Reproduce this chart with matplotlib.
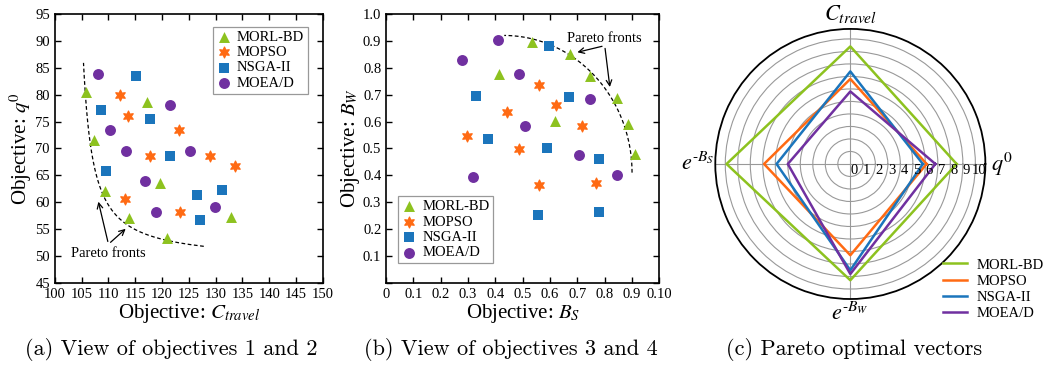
import numpy as np
import matplotlib
matplotlib.use("Agg")
import matplotlib.pyplot as plt

plt.rcParams['font.family'] = ['Liberation Serif', 'DejaVu Serif']
plt.rcParams['mathtext.fontset'] = 'stix'

methods = ["MORL-BD", "MOPSO", "NSGA-II", "MOEA/D"]
colors = ["#8DC21F", "#FF6A13", "#1B75BC", "#7030A0"]
markers = ["^", (6, 1, 0), "s", "o"]

# (a) C_travel vs q0
ctravel = {
    "MORL-BD": [105.9, 107.3, 109.4, 113.9, 120.9, 117.1, 119.7, 132.8],
    "MOPSO":   [112.1, 113.7, 117.7, 113.1, 123.4, 123.2, 128.9, 133.6],
    "NSGA-II": [115.2, 108.6, 117.7, 109.6, 121.4, 126.5, 131.2, 127.1],
    "MOEA/D":  [108.0, 110.3, 113.2, 121.5, 125.2, 116.8, 118.8, 129.9],
}
q0 = {
    "MORL-BD": [80.5, 71.6, 62.1, 57.0, 53.4, 78.7, 63.6, 57.2],
    "MOPSO":   [79.9, 76.0, 68.6, 60.6, 58.2, 73.4, 68.6, 66.7],
    "NSGA-II": [83.5, 77.1, 75.5, 65.8, 68.6, 61.4, 62.3, 56.7],
    "MOEA/D":  [83.8, 73.4, 69.6, 78.1, 69.6, 63.9, 58.2, 59.1],
}

# (b) B_S vs B_W
bs = {
    "MORL-BD": [0.534, 0.672, 0.746, 0.413, 0.846, 0.885, 0.909, 0.617],
    "MOPSO":   [0.559, 0.443, 0.623, 0.296, 0.485, 0.715, 0.559, 0.767],
    "NSGA-II": [0.595, 0.329, 0.670, 0.373, 0.587, 0.780, 0.554, 0.780],
    "MOEA/D":  [0.408, 0.279, 0.485, 0.746, 0.510, 0.705, 0.317, 0.844],
}
bw = {
    "MORL-BD": [0.895, 0.851, 0.771, 0.775, 0.687, 0.589, 0.478, 0.601],
    "MOPSO":   [0.734, 0.637, 0.660, 0.545, 0.496, 0.582, 0.365, 0.373],
    "NSGA-II": [0.880, 0.693, 0.691, 0.535, 0.501, 0.459, 0.251, 0.264],
    "MOEA/D":  [0.903, 0.829, 0.777, 0.683, 0.585, 0.476, 0.394, 0.400],
}

# (c) pareto optimal vectors: q0, C_travel, e^-Bs, e^-Bw
radar_axes = [r"$q^0$", r"$C_{travel}$", r"$e^{\text{-}B_S}$", r"$e^{\text{-}B_W}$"]
radar_vals = {
    "MORL-BD": [8.5, 9.4, 9.9, 9.3],
    "MOPSO":   [6.1, 6.8, 6.9, 7.3],
    "NSGA-II": [5.8, 7.4, 5.9, 8.5],
    "MOEA/D":  [6.8, 5.8, 5.0, 8.8],
}
radar_ticks = list(range(0, 11))

captions = ["(a) View of objectives 1 and 2", "(b) View of objectives 3 and 4",
            "(c) Pareto optimal vectors"]

fig = plt.figure(figsize=(10.55, 3.66), dpi=100)
ax1 = fig.add_axes([0.052, 0.227, 0.254, 0.735])
ax2 = fig.add_axes([0.366, 0.227, 0.259, 0.735])
ax3 = fig.add_axes([0.678, 0.183, 0.256, 0.738], projection='polar')


def style_scatter(ax):
    ax.tick_params(direction='in', top=True, right=True, labelsize=10.5,
                   length=4, width=1)
    for sp in ax.spines.values():
        sp.set_linewidth(1.2)


for m, c, mk in zip(methods, colors, markers):
    lw = 0.9 if m == "MOPSO" else 0
    ax1.scatter(ctravel[m], q0[m], s=62, color=c, marker=mk, label=m,
                linewidths=lw, edgecolors=c, zorder=3)
    ax2.scatter(bs[m], bw[m], s=62, color=c, marker=mk, label=m,
                linewidths=lw, edgecolors=c, zorder=3)

# (a)
ax1.set_xlim(100, 150)
ax1.set_ylim(45, 95)
ax1.set_xticks(np.arange(100, 151, 5))
ax1.set_yticks(np.arange(45, 96, 5))
style_scatter(ax1)
ax1.set_xlabel(r"Objective: $C_{travel}$", fontsize=15, labelpad=1)
ax1.set_ylabel(r"Objective: $q^0$", fontsize=15, labelpad=1)
yy = np.linspace(51.8, 85.9, 200)
ax1.plot(103.5 + 68 / (yy - 49), yy, 'k--', lw=0.9, dashes=(3, 2))
for tgt in [(108.0, 60.6), (113.6, 55.4)]:
    ax1.annotate("", xy=tgt, xytext=(110.0, 52.2),
                 arrowprops=dict(arrowstyle='->', lw=0.9, color='k'))
ax1.text(110.0, 50.5, "Pareto fronts", fontsize=10.5, ha='center', va='center')
leg1 = ax1.legend(loc='upper right', bbox_to_anchor=(0.944, 0.952), fontsize=10.5,
                  fancybox=False, edgecolor='gray', handletextpad=0.4,
                  labelspacing=0.15, borderpad=0.25, handlelength=1.0,
                  borderaxespad=0)
leg1.get_frame().set_linewidth(0.9)

# (b)
ax2.set_xlim(0, 1.0)
ax2.set_ylim(0, 1.0)
ax2.set_xticks(np.arange(0, 1.01, 0.1))
ax2.set_xticklabels(["0", "0.1", "0.2", "0.3", "0.4", "0.5", "0.6", "0.7",
                     "0.8", "0.9", "0.10"])
ax2.set_yticks(np.arange(0, 1.01, 0.1))
ax2.set_yticklabels(["", "0.1", "0.2", "0.3", "0.4", "0.5", "0.6", "0.7",
                     "0.8", "0.9", "1.0"])
style_scatter(ax2)
ax2.set_xlabel(r"Objective: $B_S$", fontsize=15, labelpad=1)
ax2.set_ylabel(r"Objective: $B_W$", fontsize=15, labelpad=1)
th = np.linspace(0.0, np.pi / 2 - 0.005, 200)
ax2.plot(0.43 + 0.47 * np.cos(th), 0.41 + 0.51 * np.sin(th), 'k--', lw=0.9,
         dashes=(3, 2))
for tgt in [(0.69, 0.855), (0.82, 0.718)]:
    ax2.annotate("", xy=tgt, xytext=(0.80, 0.882),
                 arrowprops=dict(arrowstyle='->', lw=0.9, color='k'))
ax2.text(0.80, 0.907, "Pareto fronts", fontsize=10.5, ha='center', va='center')
leg2 = ax2.legend(loc='lower left', bbox_to_anchor=(0.044, 0.074), fontsize=10.5,
                  fancybox=False, edgecolor='gray', handletextpad=0.4,
                  labelspacing=0.15, borderpad=0.25, handlelength=1.0,
                  borderaxespad=0)
leg2.get_frame().set_linewidth(0.9)

# (c)
angles = [0, np.pi / 2, np.pi, 3 * np.pi / 2]
for m, c in zip(methods, colors):
    v = radar_vals[m]
    ax3.plot(angles + [angles[0]], v + [v[0]], color=c, lw=1.8, label=m)
ax3.set_ylim(0, 10.8)
ax3.set_yticks(radar_ticks[1:])
ax3.set_yticklabels([])
ax3.set_xticks(angles)
ax3.set_xticklabels([])
ax3.grid(color='#999999', lw=0.8)
ax3.spines['polar'].set_linewidth(1.3)
for k in radar_ticks:
    ax3.annotate(str(k), xy=(0, k + 0.3), xytext=(0, -5), textcoords='offset points',
                 ha='center', va='center', fontsize=10.5)
ax3.text(0, 12.1, radar_axes[0], fontsize=16, ha='center', va='center')
ax3.text(np.pi / 2, 12.0, radar_axes[1], fontsize=16, ha='center', va='center')
ax3.text(np.pi, 12.2, radar_axes[2], fontsize=16, ha='center', va='center')
ax3.text(3 * np.pi / 2, 12.0, radar_axes[3], fontsize=16, ha='center', va='center')
fig.legend(*ax3.get_legend_handles_labels(), loc='lower right',
           bbox_to_anchor=(1.002, 0.09), fontsize=10.5, frameon=False,
           handlelength=1.6, labelspacing=0.2, handletextpad=0.7)

for x, cap in zip([0.162, 0.484, 0.81], captions):
    fig.text(x, 0.045, cap, fontsize=16, family='cmr10', ha='center', va='center')

fig.savefig("out.png", dpi=100)
